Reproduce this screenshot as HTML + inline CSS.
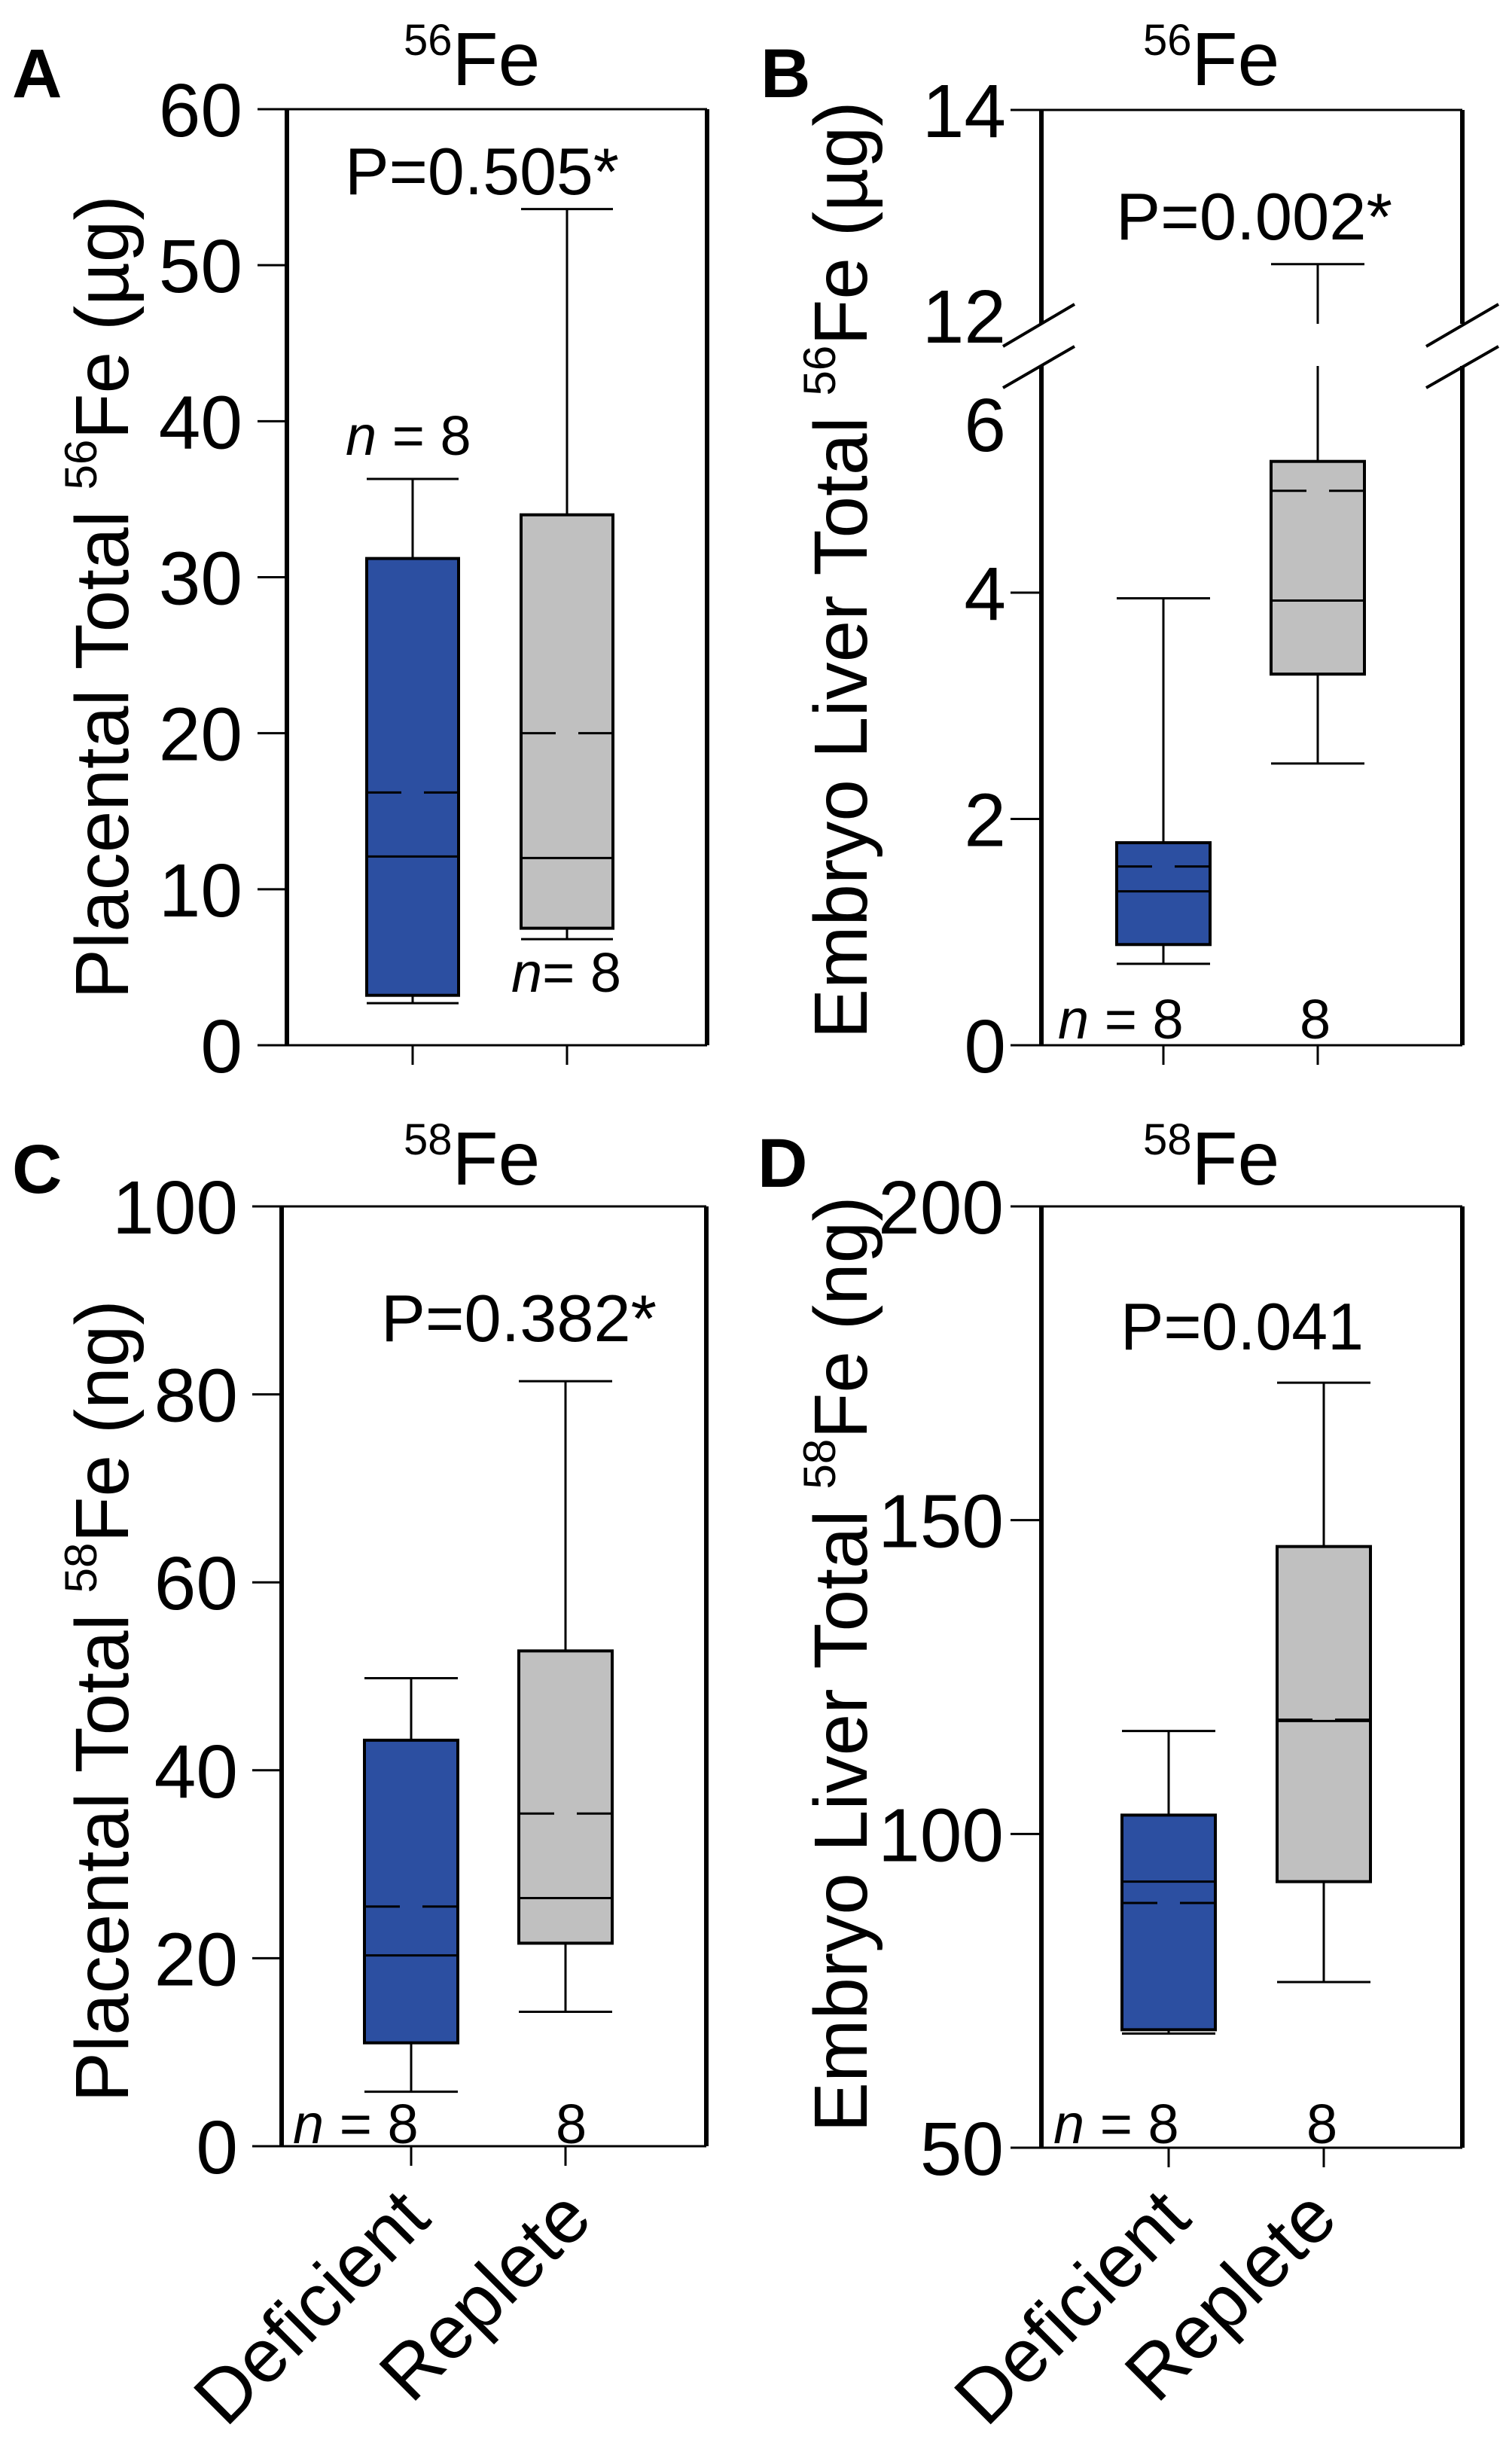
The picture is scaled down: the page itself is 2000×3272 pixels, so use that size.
<!DOCTYPE html>
<html><head><meta charset="utf-8"><style>
html,body{margin:0;padding:0;background:#fff;}
svg{display:block;font-family:"Liberation Sans",Arial,sans-serif;}
</style></head><body>
<svg id="fig" width="2000" height="3272" viewBox="0 0 2000 3272" xmlns="http://www.w3.org/2000/svg">
<rect x="0" y="0" width="2000" height="3272" fill="#fff"/>
<text x="16" y="129" font-size="92" font-weight="bold">A</text>
<text x="1010" y="129" font-size="92" font-weight="bold">B</text>
<text x="16" y="1584" font-size="92" font-weight="bold">C</text>
<text x="1006" y="1576" font-size="92" font-weight="bold">D</text>
<text x="536" y="113" font-size="100"><tspan font-size="58" dy="-40">56</tspan><tspan dy="40">Fe</tspan></text>
<text x="1518" y="113" font-size="100"><tspan font-size="58" dy="-40">56</tspan><tspan dy="40">Fe</tspan></text>
<text x="536" y="1573" font-size="100"><tspan font-size="58" dy="-40">58</tspan><tspan dy="40">Fe</tspan></text>
<text x="1518" y="1573" font-size="100"><tspan font-size="58" dy="-40">58</tspan><tspan dy="40">Fe</tspan></text>
<text x="458" y="258" font-size="88" textLength="364" lengthAdjust="spacingAndGlyphs">P=0.505*</text>
<text x="1482" y="318" font-size="88" textLength="367" lengthAdjust="spacingAndGlyphs">P=0.002*</text>
<text x="506" y="1781" font-size="88" textLength="366" lengthAdjust="spacingAndGlyphs">P=0.382*</text>
<text x="1488" y="1792" font-size="88" textLength="323" lengthAdjust="spacingAndGlyphs">P=0.041</text>
<text x="459" y="604" font-size="74"><tspan font-style="italic">n</tspan> = 8</text>
<text x="679" y="1317" font-size="74"><tspan font-style="italic">n</tspan>= 8</text>
<text x="1405" y="1379" font-size="74"><tspan font-style="italic">n</tspan> = 8</text>
<text x="1726" y="1379" font-size="74">8</text>
<text x="389" y="2846" font-size="74"><tspan font-style="italic">n</tspan> = 8</text>
<text x="738" y="2846" font-size="74">8</text>
<text x="1399" y="2846" font-size="74"><tspan font-style="italic">n</tspan> = 8</text>
<text x="1735" y="2846" font-size="74">8</text>
<text transform="translate(170,793) rotate(-90)" text-anchor="middle" font-size="100">Placental Total <tspan font-size="60" dy="-42">56</tspan><tspan dy="42">Fe (µg)</tspan></text>
<text transform="translate(1151,757) rotate(-90)" text-anchor="middle" font-size="100">Embryo Liver Total <tspan font-size="60" dy="-42">56</tspan><tspan dy="42">Fe (µg)</tspan></text>
<text transform="translate(170,2259) rotate(-90)" text-anchor="middle" font-size="100">Placental Total <tspan font-size="60" dy="-42">58</tspan><tspan dy="42">Fe (ng)</tspan></text>
<text transform="translate(1151,2210) rotate(-90)" text-anchor="middle" font-size="100">Embryo Liver Total <tspan font-size="60" dy="-42">58</tspan><tspan dy="42">Fe (ng)</tspan></text>
<text transform="translate(575,2950) rotate(-45)" text-anchor="end" font-size="100">Deficient</text>
<text transform="translate(790,2950) rotate(-45)" text-anchor="end" font-size="100">Replete</text>
<text transform="translate(1585,2950) rotate(-45)" text-anchor="end" font-size="100">Deficient</text>
<text transform="translate(1780,2950) rotate(-45)" text-anchor="end" font-size="100">Replete</text>
<g id="marks"></g>
</svg>
<script>
const categories = ["Deficient", "Replete"];
const aMin = [2.7, 6.8];
const aQ1 = [3.2, 7.5];
const aMed = [12.1, 12.0];
const aMean = [16.2, 20.0];
const aQ3 = [31.2, 34.0];
const aMax = [36.3, 53.6];
const aTicks = [0, 10, 20, 30, 40, 50, 60];
const bMin = [0.72, 2.49];
const bQ1 = [0.89, 3.28];
const bMed = [1.36, 3.93];
const bMean = [1.58, 4.90];
const bQ3 = [1.79, 5.16];
const bMax = [3.95, 12.5];
const bTicksLow = [0, 2, 4];
const bTicksHigh = [14];
const cMin = [5.8, 14.3];
const cQ1 = [11.0, 21.6];
const cMed = [20.3, 26.4];
const cMean = [25.5, 35.4];
const cQ3 = [43.2, 52.7];
const cMax = [49.8, 81.4];
const cTicks = [0, 20, 40, 60, 80, 100];
const dMin = [68.2, 76.4];
const dQ1 = [68.8, 92.4];
const dMed = [92.4, 118.0];
const dMean = [89.0, 118.2];
const dQ3 = [103.0, 145.8];
const dMax = [116.4, 171.9];
const dTicks = [50, 100, 150, 200];

const NS = "http://www.w3.org/2000/svg";
const g = document.getElementById("marks");
function add(tag, attrs, name) {
  const el = document.createElementNS(NS, tag);
  for (const k in attrs) el.setAttribute(k, attrs[k]);
  
  
  g.appendChild(el);
  return el;
}
function line(x1, y1, x2, y2, w, name) {
  return add("line", {x1: x1, y1: y1, x2: x2, y2: y2, stroke: "#000", "stroke-width": w}, name);
}
function label(x, y, txt, name) {
  const t = add("text", {x: x, y: y, "font-size": 100, "text-anchor": "end"}, name);
  t.textContent = txt;
  return t;
}
function linScale(v0, v1, p0, p1) { return v => p0 + (v - v0) * (p1 - p0) / (v1 - v0); }
const fills = ["#2c4fa1", "#c0c0c0"];

function drawBoxes(p, y, mins, q1s, meds, means, q3s, maxs, centers, hw, gap) {
  for (let i = 0; i < categories.length; i++) {
    const cx = centers[i];
    const nm = p + "-" + categories[i].toLowerCase();
    if (gap && maxs[i] > gap.vmin) {
      line(cx, y(q3s[i]), cx, gap.y2, 3, nm + "-upper-whisker-low");
      line(cx, gap.y1, cx, y(maxs[i]), 3, nm + "-upper-whisker-high");
    } else {
      line(cx, y(q3s[i]), cx, y(maxs[i]), 3, nm + "-upper-whisker");
    }
    line(cx - hw, y(maxs[i]), cx + hw, y(maxs[i]), 3, nm + "-max-cap");
    line(cx, y(q1s[i]), cx, y(mins[i]), 3, nm + "-lower-whisker");
    line(cx - hw, y(mins[i]), cx + hw, y(mins[i]), 3, nm + "-min-cap");
    add("rect", {x: cx - hw, y: y(q3s[i]), width: 2 * hw, height: y(q1s[i]) - y(q3s[i]), fill: fills[i], stroke: "#000", "stroke-width": 4}, nm + "-box");
    line(cx - hw, y(meds[i]), cx + hw, y(meds[i]), 3, nm + "-median");
    line(cx - hw, y(means[i]), cx - 15, y(means[i]), 3, nm + "-mean-left");
    line(cx + 15, y(means[i]), cx + hw, y(means[i]), 3, nm + "-mean-right");
  }
}
function frame(p, L, R, T, B, tickX, centers, gapY) {
  line(L, T, R, T, 3, p + "-frame-top");
  if (gapY) {
    line(L, T, L, gapY[0], 6, p + "-left-spine-upper");
    line(L, gapY[1], L, B, 6, p + "-left-spine-lower");
    line(R, T, R, gapY[0], 6, p + "-right-spine-upper");
    line(R, gapY[1], R, B, 6, p + "-right-spine-lower");
  } else {
    line(L, T, L, B, 6, p + "-left-spine");
    line(R, T, R, B, 6, p + "-right-spine");
  }
  line(tickX, B, R, B, 3, p + "-frame-bottom");
  centers.forEach((c, i) => line(c, B, c, B + 26, 3, p + "-x-tick-" + categories[i].toLowerCase()));
}

const aY = linScale(0, 60, 1388, 145);
const aC = [548, 753];
frame("a", 381, 939, 145, 1388, 342, aC, null);
aTicks.forEach(v => { line(342, aY(v), 381, aY(v), 3, "a-y-tick-" + v); label(322, aY(v) + 36, String(v), "a-y-tick-label-" + v); });
drawBoxes("a", aY, aMin, aQ1, aMed, aMean, aQ3, aMax, aC, 61, null);

const bLow = linScale(0, 4, 1388, 787);
const bHigh = linScale(12, 14, 419, 146);
const bY = v => (v <= 8 ? bLow(v) : bHigh(v));
const bC = [1545, 1750];
frame("b", 1383, 1942, 146, 1388, 1342, bC, [430, 486]);
bTicksLow.forEach(v => { line(1342, bLow(v), 1383, bLow(v), 3, "b-y-tick-" + v); label(1336, bLow(v) + 36, String(v), "b-y-tick-label-" + v); });
bTicksHigh.forEach(v => { line(1342, bHigh(v), 1383, bHigh(v), 3, "b-y-tick-" + v); label(1336, bHigh(v) + 36, String(v), "b-y-tick-label-" + v); });
label(1336, 455, "12", "b-y-tick-label-12");
label(1336, 599, "6", "b-y-tick-label-6");
line(1332, 460, 1427, 404, 4, "b-break-left-upper");
line(1332, 515, 1427, 460, 4, "b-break-left-lower");
line(1894, 460, 1990, 404, 4, "b-break-right-upper");
line(1894, 515, 1990, 460, 4, "b-break-right-lower");
drawBoxes("b", bY, bMin, bQ1, bMed, bMean, bQ3, bMax, bC, 62, {vmin: 8, y1: 430, y2: 486});

const cY = linScale(0, 100, 2850, 1602);
const cC = [546, 751];
frame("c", 374, 938, 1602, 2850, 335, cC, null);
cTicks.forEach(v => { line(335, cY(v), 374, cY(v), 3, "c-y-tick-" + v); label(316, cY(v) + 36, String(v), "c-y-tick-label-" + v); });
drawBoxes("c", cY, cMin, cQ1, cMed, cMean, cQ3, cMax, cC, 62, null);

const dY = linScale(50, 200, 2852, 1602);
const dC = [1552, 1758];
frame("d", 1383, 1942, 1602, 2852, 1342, dC, null);
dTicks.forEach(v => { line(1342, dY(v), 1383, dY(v), 3, "d-y-tick-" + v); label(1333, dY(v) + 36, String(v), "d-y-tick-label-" + v); });
drawBoxes("d", dY, dMin, dQ1, dMed, dMean, dQ3, dMax, dC, 62, null);
</script>
</body></html>
